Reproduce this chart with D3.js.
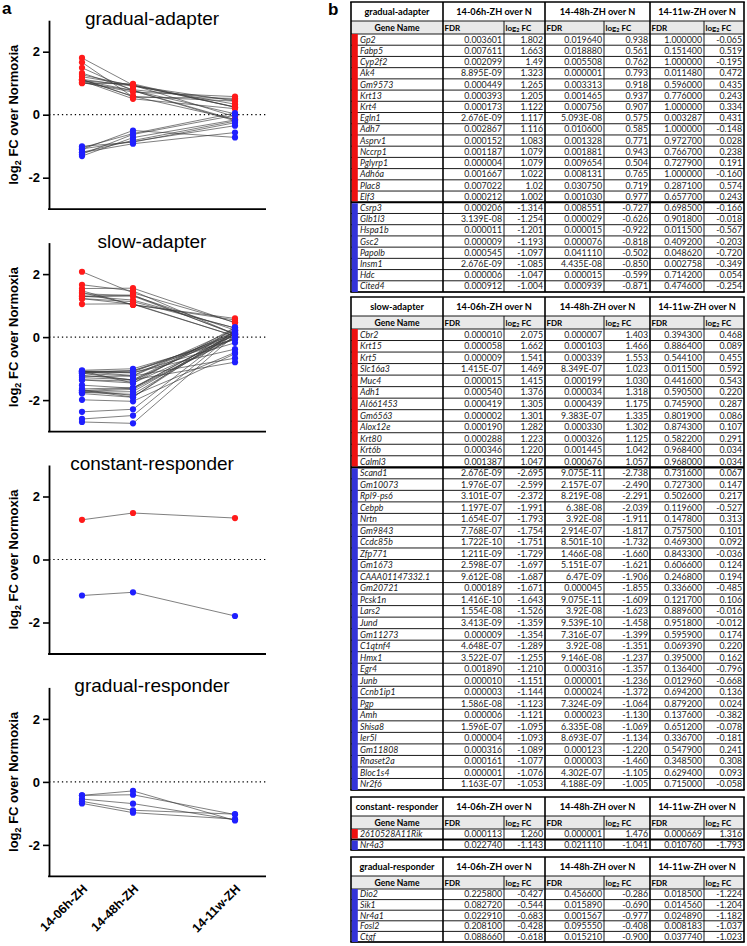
<!DOCTYPE html>
<html><head><meta charset="utf-8">
<script src="https://cdn.jsdelivr.net/npm/d3@7"></script>
<style>body{margin:0;background:#fff} svg{display:block}</style>
</head><body><svg id="c" width="747" height="946"></svg>
<script>
const timepoints = ["14-06h-ZH","14-48h-ZH","14-11w-ZH"];
const timeSlots = [0,1,3];
const yTicks = [-2,0,2];
const colHeaders = ["14-06h-ZH over N","14-48h-ZH over N","14-11w-ZH over N"];

// row: gene, FDR 06h, log2FC 06h, FDR 48h, log2FC 48h, FDR 11w, log2FC 11w
const gradualAdapterUp = [
 ["Gp2","0.003601","1.802","0.019640","0.938","1.000000","-0.065"],
 ["Fabp5","0.007611","1.663","0.018880","0.561","0.151400","0.519"],
 ["Cyp2f2","0.002099","1.49","0.005508","0.762","1.000000","-0.195"],
 ["Ak4","8.895E-09","1.323","0.000001","0.793","0.011480","0.472"],
 ["Gm9573","0.000449","1.265","0.003313","0.918","0.596000","0.435"],
 ["Krt13","0.000393","1.205","0.001465","0.937","0.776000","0.243"],
 ["Krt4","0.000173","1.122","0.000756","0.907","1.000000","0.334"],
 ["Egln1","2.676E-09","1.117","5.093E-08","0.575","0.003287","0.431"],
 ["Adh7","0.002867","1.116","0.010600","0.585","1.000000","-0.148"],
 ["Asprv1","0.000152","1.083","0.001328","0.771","0.972700","0.028"],
 ["Nccrp1","0.001187","1.079","0.001881","0.943","0.766700","0.238"],
 ["Pglyrp1","0.000004","1.079","0.009654","0.504","0.727900","0.191"],
 ["Adh6a","0.001667","1.022","0.008131","0.765","1.000000","-0.160"],
 ["Plac8","0.007022","1.02","0.030750","0.719","0.287100","0.574"],
 ["Elf3","0.000212","1.002","0.001030","0.977","0.657700","0.243"]
];
const gradualAdapterDown = [
 ["Csrp3","0.000206","-1.314","0.008551","-0.727","0.698500","-0.166"],
 ["Glb1l3","3.139E-08","-1.254","0.000029","-0.626","0.901800","-0.018"],
 ["Hspa1b","0.000011","-1.201","0.000015","-0.922","0.011500","-0.567"],
 ["Gsc2","0.000009","-1.193","0.000076","-0.818","0.409200","-0.203"],
 ["Papolb","0.000545","-1.097","0.041110","-0.502","0.048620","-0.720"],
 ["Insm1","2.676E-09","-1.085","4.435E-08","-0.850","0.002758","-0.349"],
 ["Hdc","0.000006","-1.047","0.000015","-0.599","0.714200","0.054"],
 ["Cited4","0.000912","-1.004","0.000939","-0.871","0.474600","-0.254"]
];
const slowAdapterUp = [
 ["Cbr2","0.000010","2.075","0.000007","1.403","0.394300","0.468"],
 ["Krt15","0.000058","1.662","0.000103","1.466","0.886400","0.089"],
 ["Krt5","0.000009","1.541","0.000339","1.553","0.544100","0.455"],
 ["Slc16a3","1.415E-07","1.469","8.349E-07","1.023","0.011500","0.592"],
 ["Muc4","0.000015","1.415","0.000199","1.030","0.441600","0.543"],
 ["Adh1","0.000540","1.376","0.000034","1.318","0.590500","0.220"],
 ["AI661453","0.000419","1.305","0.000439","1.175","0.745900","0.287"],
 ["Gm6563","0.000002","1.301","9.383E-07","1.335","0.801900","0.086"],
 ["Alox12e","0.000190","1.282","0.000330","1.302","0.874300","0.107"],
 ["Krt80","0.000288","1.223","0.000326","1.125","0.582200","0.291"],
 ["Krt6b","0.000346","1.220","0.001445","1.042","0.968400","0.034"],
 ["Calml3","0.001387","1.047","0.000676","1.057","0.968000","0.034"]
];
const slowAdapterDown = [
 ["Scand1","2.676E-09","-2.695","9.075E-11","-2.738","0.731600","0.067"],
 ["Gm10073","1.976E-07","-2.599","2.157E-07","-2.490","0.727300","0.147"],
 ["Rpl9-ps6","3.101E-07","-2.372","8.219E-08","-2.291","0.502600","0.217"],
 ["Cebpb","1.197E-07","-1.991","6.38E-08","-2.039","0.119600","-0.527"],
 ["Nrtn","1.654E-07","-1.793","3.92E-08","-1.911","0.147800","0.313"],
 ["Gm9843","7.768E-07","-1.754","2.914E-07","-1.817","0.757500","0.101"],
 ["Ccdc85b","1.722E-10","-1.751","8.501E-10","-1.732","0.469300","0.092"],
 ["Zfp771","1.211E-09","-1.729","1.466E-08","-1.660","0.843300","-0.036"],
 ["Gm1673","2.598E-07","-1.697","5.151E-07","-1.621","0.606600","0.124"],
 ["CAAA01147332.1","9.612E-08","-1.687","6.47E-09","-1.906","0.246800","0.194"],
 ["Gm20721","0.000189","-1.671","0.000045","-1.855","0.336600","-0.485"],
 ["Pcsk1n","1.416E-10","-1.643","9.075E-11","-1.609","0.121700","0.106"],
 ["Lars2","1.554E-08","-1.526","3.92E-08","-1.623","0.889600","-0.016"],
 ["Jund","3.413E-09","-1.359","9.539E-10","-1.458","0.951800","-0.012"],
 ["Gm11273","0.000009","-1.354","7.316E-07","-1.399","0.595900","0.174"],
 ["C1qtnf4","4.648E-07","-1.289","3.92E-08","-1.351","0.069390","0.220"],
 ["Hmx1","3.522E-07","-1.255","9.146E-08","-1.237","0.395000","0.162"],
 ["Egr4","0.001890","-1.210","0.000316","-1.357","0.136400","-0.796"],
 ["Junb","0.000010","-1.151","0.000001","-1.236","0.012960","-0.668"],
 ["Ccnb1ip1","0.000003","-1.144","0.000024","-1.372","0.694200","0.136"],
 ["Pgp","1.586E-08","-1.123","7.324E-09","-1.064","0.879200","0.024"],
 ["Amh","0.000006","-1.121","0.000023","-1.130","0.137600","-0.382"],
 ["Shisa8","1.596E-07","-1.095","6.335E-08","-1.069","0.651200","-0.078"],
 ["Ier5l","0.000004","-1.093","8.693E-07","-1.134","0.336700","-0.181"],
 ["Gm11808","0.000316","-1.089","0.000123","-1.220","0.547900","0.241"],
 ["Rnaset2a","0.000161","-1.077","0.000003","-1.460","0.348500","0.308"],
 ["Bloc1s4","0.000001","-1.076","4.302E-07","-1.105","0.629400","0.093"],
 ["Nr2f6","1.163E-07","-1.053","4.188E-09","-1.005","0.715000","-0.058"]
];
const constantResponderUp = [
 ["2610528A11Rik","0.000113","1.260","0.000001","1.476","0.000669","1.316"]
];
const constantResponderDown = [
 ["Nr4a3","0.022740","-1.143","0.021110","-1.041","0.010760","-1.793"]
];
const gradualResponderUp = [];
const gradualResponderDown = [
 ["Dio2","0.225800","-0.427","0.456600","-0.286","0.018500","-1.224"],
 ["Sik1","0.082720","-0.544","0.015890","-0.690","0.014560","-1.204"],
 ["Nr4a1","0.022910","-0.683","0.001567","-0.977","0.024890","-1.182"],
 ["Fosl2","0.208100","-0.428","0.095550","-0.408","0.008183","-1.037"],
 ["Ctgf","0.088660","-0.618","0.015210","-0.900","0.037740","-1.023"]
];

const groups = [
 {title:"gradual-adapter", tableTitle:"gradual-adapter", up:gradualAdapterUp, down:gradualAdapterDown, tTop:2, tBottom:292},
 {title:"slow-adapter", tableTitle:"slow-adapter", up:slowAdapterUp, down:slowAdapterDown, tTop:297, tBottom:790},
 {title:"constant-responder", tableTitle:"constant- responder", up:constantResponderUp, down:constantResponderDown, tTop:797, tBottom:850},
 {title:"gradual-responder", tableTitle:"gradual-responder", up:gradualResponderUp, down:gradualResponderDown, tTop:857, tBottom:942}
];

const RED = "#ff1a1a", BLUE = "#1f1fff";
const BAR_RED = "#ee1111", BAR_BLUE = "#3434d8";
const svg = d3.select("#c");
const FONT = "'Liberation Sans', Arial, sans-serif";

// ---------- panel a ----------
const x = d3.scaleLinear().domain([0,3]).range([82,235]);
const axisL = 49, axisR = 266, panelH = 189;

svg.append("text").attr("x",2).attr("y",14).attr("font-family",FONT)
  .attr("font-weight","bold").attr("font-size",17).text("a");

groups.forEach((g,i)=>{
  const top = 20.2 + i*222.4;
  const y = d3.scaleLinear().domain([-3,3]).range([top+panelH, top]);
  const p = svg.append("g");

  p.append("text").attr("x",152).attr("y",top+5).attr("text-anchor","middle")
   .attr("font-family",FONT).attr("font-size",19).text(g.title);

  p.append("line").attr("x1",axisL).attr("x2",axisR).attr("y1",y(0)).attr("y2",y(0))
   .attr("stroke","#000").attr("stroke-width",1.2).attr("stroke-dasharray","1.3,3");

  const ya = p.append("g").attr("transform",`translate(${axisL},0)`)
    .call(d3.axisLeft(y).tickValues(yTicks).tickSize(6).tickSizeOuter(0).tickFormat(d=>String(d)));
  ya.select(".domain").attr("stroke-width",1.8);
  ya.selectAll(".tick line").attr("stroke-width",1.6);
  ya.selectAll(".tick text").attr("font-family",FONT).attr("font-weight","bold")
    .attr("font-size",13).attr("x",-9).attr("fill","#000");

  p.append("line").attr("x1",axisL-0.9).attr("x2",axisR).attr("y1",y(-3)).attr("y2",y(-3))
   .attr("stroke","#000").attr("stroke-width",1.8);

  const lab = p.append("text").attr("transform",`translate(18,${y(0)}) rotate(-90)`)
   .attr("text-anchor","middle").attr("font-family",FONT).attr("font-weight","bold").attr("font-size",13);
  lab.append("tspan").text("log");
  lab.append("tspan").attr("font-size",9).attr("dy",3).text("2");
  lab.append("tspan").attr("dy",-3).text(" FC over Normoxia");

  const series = [
    ...g.up.map(r=>({vals:[+r[2],+r[4],+r[6]], color:RED})),
    ...g.down.map(r=>({vals:[+r[2],+r[4],+r[6]], color:BLUE}))
  ];
  const line = d3.line().x((d,k)=>x(timeSlots[k])).y(d=>y(d));
  p.append("g").selectAll("path").data(series).join("path")
   .attr("d",d=>line(d.vals)).attr("fill","none").attr("stroke","#3a3a3a").attr("stroke-width",0.65);
  series.forEach(s=>{
    p.append("g").selectAll("circle").data(s.vals).join("circle")
     .attr("cx",(d,k)=>x(timeSlots[k])).attr("cy",d=>y(d)).attr("r",3.1).attr("fill",s.color);
  });

  if (i === groups.length-1) {
    timepoints.forEach((t,k)=>{
      p.append("text").attr("transform",`translate(${x(timeSlots[k])+3},${y(-3)+10}) rotate(-45)`)
       .attr("text-anchor","end").attr("dy","0.35em").attr("font-family",FONT)
       .attr("font-weight","bold").attr("font-size",12.5).text(t);
    });
  }
});

// ---------- panel b ----------
svg.append("text").attr("x",328).attr("y",15).attr("font-family",FONT)
  .attr("font-weight","bold").attr("font-size",17).text("b");

const cx = [351,443,504,545,604,650,704,744];
const TF = "Lato, 'Liberation Sans', sans-serif";

groups.forEach(g=>{
  const t = svg.append("g");
  const rows = [...g.up.map(r=>({r,c:BAR_RED})), ...g.down.map(r=>({r,c:BAR_BLUE}))];
  const h1 = 19, h2 = 13;
  const top = g.tTop, bot = g.tBottom;
  const rTop = top + h1 + h2;
  const rh = (bot - rTop)/rows.length;
  const L = cx[0], R = cx[7];

  t.append("rect").attr("x",L).attr("y",top+h1).attr("width",R-L).attr("height",h2).attr("fill","#e9e9e9");

  for (let k=0;k<=rows.length;k++){
    t.append("line").attr("x1",L).attr("x2",R).attr("y1",rTop+k*rh).attr("y2",rTop+k*rh)
     .attr("stroke","#000").attr("stroke-width",0.9);
  }
  t.append("line").attr("x1",L).attr("x2",R).attr("y1",top+h1).attr("y2",top+h1)
   .attr("stroke","#000").attr("stroke-width",0.9);

  cx.forEach((xv,j)=>{
    const thick = (j===0||j===1||j===3||j===5||j===7);
    const y1 = (j===2||j===4||j===6) ? top+h1 : top;
    t.append("line").attr("x1",xv).attr("x2",xv).attr("y1",y1).attr("y2",bot)
     .attr("stroke","#000").attr("stroke-width",thick?1.6:0.9);
  });

  [top,bot].forEach(yv=>t.append("line").attr("x1",L-0.8).attr("x2",R+0.8).attr("y1",yv).attr("y2",yv)
     .attr("stroke","#000").attr("stroke-width",1.6));

  if (g.up.length && g.down.length){
    const ys = rTop + g.up.length*rh;
    t.append("line").attr("x1",L).attr("x2",R).attr("y1",ys).attr("y2",ys)
     .attr("stroke","#000").attr("stroke-width",2.2);
  }

  if (g.up.length) t.append("rect").attr("x",L+0.8).attr("y",rTop).attr("width",6)
     .attr("height",g.up.length*rh - (g.down.length?1:0)).attr("fill",BAR_RED);
  if (g.down.length) t.append("rect").attr("x",L+0.8).attr("y",rTop+g.up.length*rh+(g.up.length?1:0))
     .attr("width",6).attr("height",g.down.length*rh-(g.up.length?1:0)).attr("fill",BAR_BLUE);

  const hy = top + h1/2 + 3.2;
  t.append("text").attr("x",(cx[0]+cx[1])/2).attr("y",hy).attr("text-anchor","middle")
   .attr("font-family",TF).attr("font-weight","bold").attr("font-size",9.2).text(g.tableTitle);
  colHeaders.forEach((h,k)=>{
    t.append("text").attr("x",(cx[1+2*k]+cx[3+2*k])/2).attr("y",hy).attr("text-anchor","middle")
     .attr("font-family",TF).attr("font-weight","bold").attr("font-size",9.2).text(h);
  });
  const h2y = top + h1 + h2/2 + 3;
  t.append("text").attr("x",(cx[0]+cx[1])/2).attr("y",h2y).attr("text-anchor","middle")
   .attr("font-family",TF).attr("font-weight","bold").attr("font-size",8.6).text("Gene Name");
  for (let k=0;k<3;k++){
    t.append("text").attr("x",cx[1+2*k]+1.5).attr("y",h2y).attr("font-family",TF)
     .attr("font-weight","bold").attr("font-size",8).text("FDR");
    const lt = t.append("text").attr("x",cx[2+2*k]+1.5).attr("y",h2y).attr("font-family",TF)
     .attr("font-weight","bold").attr("font-size",8);
    lt.append("tspan").text("log");
    lt.append("tspan").attr("font-size",5.5).attr("dy",1.5).text("2");
    lt.append("tspan").attr("dy",-1.5).text(" FC");
  }

  rows.forEach((d,k)=>{
    const yy = rTop + k*rh + rh/2 + 3.1;
    t.append("text").attr("x",L+9).attr("y",yy).attr("font-family",TF).attr("font-style","italic")
     .attr("font-size",8.8).attr("fill","#222").text(d.r[0]);
    for (let c=1;c<=6;c++){
      t.append("text").attr("x",cx[c+1]-2).attr("y",yy).attr("text-anchor","end")
       .attr("font-family",TF).attr("font-size",8.8).attr("fill","#222").text(d.r[c]);
    }
  });
});
</script></body></html>
